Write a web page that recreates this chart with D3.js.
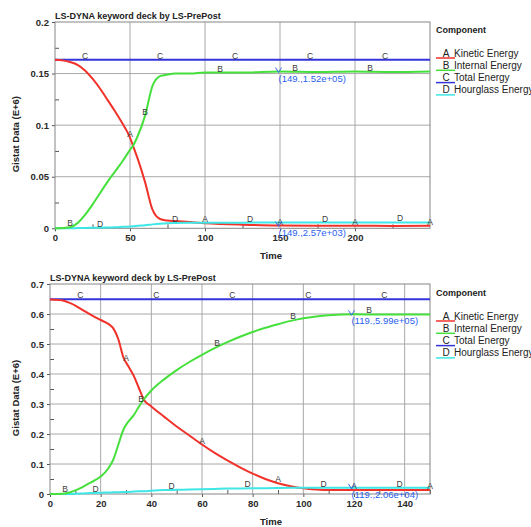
<!DOCTYPE html>
<html>
<head>
<meta charset="utf-8">
<script src="https://cdnjs.cloudflare.com/ajax/libs/d3/7.8.5/d3.min.js"></script>
<style>
	body { margin: 0; background: #fff; }
	svg text { font-family: "Liberation Sans", Arial, sans-serif; }
</style>
</head>
<body>
<div id="chartDiv"></div>
<script>
;(function() {

	var width = 531;
	var height = 527;

	var seriesNames = ["Kinetic Energy", "Internal Energy", "Total Energy", "Hourglass Energy"];
	var seriesLetters = ["A", "B", "C", "D"];
	var seriesColors = ["#f0322a", "#46e03c", "#3434dc", "#3ee6e6"];

	// top plot (time 0..250)
	var topTime      = [0, 5, 10, 15, 20, 25, 30, 35, 40, 45, 50, 52, 55, 60, 65, 70, 75, 80, 90, 100, 125, 150, 175, 200, 225, 250];
	var topKinetic   = [0.1635, 0.1628, 0.1612, 0.1585, 0.153, 0.145, 0.1355, 0.1245, 0.1135, 0.1015, 0.088, 0.080, 0.068, 0.045, 0.018, 0.009, 0.0075, 0.007, 0.006, 0.005, 0.0035, 0.0026, 0.0024, 0.0025, 0.0023, 0.0024];
	var topInternal  = [0, 0.0003, 0.001, 0.005, 0.013, 0.023, 0.034, 0.045, 0.055, 0.065, 0.076, 0.080, 0.089, 0.109, 0.138, 0.1475, 0.149, 0.150, 0.150, 0.151, 0.151, 0.152, 0.1515, 0.152, 0.1515, 0.152];
	var topTotal     = [0.1635, 0.1635, 0.1635, 0.1635, 0.1635, 0.1635, 0.1635, 0.1635, 0.1635, 0.1635, 0.1635, 0.1635, 0.1635, 0.1635, 0.1635, 0.1635, 0.1635, 0.1635, 0.1635, 0.1635, 0.1635, 0.1635, 0.1635, 0.1635, 0.1635, 0.1635];
	var topHourglass = [0, 0, 0, 0.0002, 0.0004, 0.0005, 0.0006, 0.0008, 0.001, 0.0014, 0.0018, 0.002, 0.0024, 0.003, 0.0038, 0.0045, 0.005, 0.0052, 0.0054, 0.0055, 0.0055, 0.0056, 0.0056, 0.0057, 0.0057, 0.0057];
	var topXTicks = [0, 50, 100, 150, 200];
	var topXMinor = [25, 75, 125, 175, 225];
	var topYTicks = [0, 0.05, 0.1, 0.15, 0.2];
	var topYLabels = ["0", "0.05", "0.1", "0.15", "0.2"];
	var topYMinor = [0.025, 0.075, 0.125, 0.175];
	var topNotes = [
		{ t: 149, v: 0.152, text: "(149.,1.52e+05)" },
		{ t: 149, v: 0.00257, text: "(149.,2.57e+03)" }
	];

	// bottom plot (time 0..150)
	var botTime      = [0, 5, 8, 10, 13, 16, 20, 23, 25, 27, 29, 31, 33, 35, 37, 40, 45, 50, 55, 60, 65, 70, 75, 80, 85, 90, 95, 100, 105, 110, 120, 130, 140, 150];
	var botKinetic   = [0.648, 0.645, 0.636, 0.628, 0.613, 0.598, 0.580, 0.567, 0.552, 0.515, 0.455, 0.425, 0.395, 0.355, 0.315, 0.292, 0.258, 0.225, 0.195, 0.165, 0.137, 0.112, 0.089, 0.068, 0.050, 0.036, 0.026, 0.019, 0.015, 0.013, 0.013, 0.013, 0.013, 0.013];
	var botInternal  = [0, 0.001, 0.006, 0.012, 0.024, 0.038, 0.058, 0.085, 0.115, 0.165, 0.215, 0.242, 0.262, 0.290, 0.315, 0.345, 0.382, 0.413, 0.440, 0.464, 0.486, 0.506, 0.524, 0.540, 0.554, 0.566, 0.577, 0.586, 0.592, 0.596, 0.599, 0.598, 0.598, 0.598];
	var botTotal     = [0.649, 0.649, 0.649, 0.649, 0.649, 0.649, 0.649, 0.649, 0.649, 0.649, 0.649, 0.649, 0.649, 0.649, 0.649, 0.649, 0.649, 0.649, 0.649, 0.649, 0.649, 0.649, 0.649, 0.649, 0.649, 0.649, 0.649, 0.649, 0.649, 0.649, 0.649, 0.649, 0.649, 0.649];
	var botHourglass = [0, 0, 0, 0.001, 0.002, 0.003, 0.004, 0.005, 0.0055, 0.006, 0.0065, 0.007, 0.008, 0.009, 0.0095, 0.011, 0.013, 0.014, 0.015, 0.016, 0.017, 0.018, 0.0185, 0.019, 0.0195, 0.020, 0.0205, 0.021, 0.0205, 0.0205, 0.0206, 0.021, 0.021, 0.021];
	var botXTicks = [0, 20, 40, 60, 80, 100, 120, 140];
	var botXMinor = [10, 30, 50, 70, 90, 110, 130, 150];
	var botYTicks = [0, 0.1, 0.2, 0.3, 0.4, 0.5, 0.6, 0.7];
	var botYLabels = ["0", "0.1", "0.2", "0.3", "0.4", "0.5", "0.6", "0.7"];
	var botYMinor = [0.05, 0.15, 0.25, 0.35, 0.45, 0.55, 0.65];
	var botNotes = [
		{ t: 119, v: 0.599, text: "(119.,5.99e+05)" },
		{ t: 119, v: 0.0206, text: "(119.,2.06e+04)" }
	];

	var titleText = "LS-DYNA keyword deck by LS-PrePost";

	var chart = d3.select("#chartDiv").append("svg")
		.attr("width", width)
		.attr("height", height);

	drawPanel({
		left: 55, right: 430, top: 22, bottom: 228.3,
		xMax: 250, yMax: 0.2,
		time: topTime, series: [topKinetic, topInternal, topTotal, topHourglass],
		xTicks: topXTicks, xMinor: topXMinor, yTicks: topYTicks, yLabels: topYLabels, yMinor: topYMinor,
		labelStep: 50, notes: topNotes,
		titleY: 18.5, legendY: 33, timeY: 259
	});

	drawPanel({
		left: 50, right: 430, top: 284, bottom: 494,
		xMax: 150, yMax: 0.7,
		time: botTime, series: [botKinetic, botInternal, botTotal, botHourglass],
		xTicks: botXTicks, xMinor: botXMinor, yTicks: botYTicks, yLabels: botYLabels, yMinor: botYMinor,
		labelStep: 30, notes: botNotes,
		titleY: 281, legendY: 296, timeY: 525
	});

	function drawPanel(p) {
		var x = d3.scaleLinear().domain([0, p.xMax]).range([p.left, p.right]);
		var y = d3.scaleLinear().domain([0, p.yMax]).range([p.bottom, p.top]);
		var g = chart.append("g");

		// grid
		g.selectAll(".vgrid").data(p.xTicks.slice(1)).enter().append("line")
			.attr("x1", function(d) { return x(d); }).attr("x2", function(d) { return x(d); })
			.attr("y1", p.top).attr("y2", p.bottom)
			.attr("stroke", "#a8a8a8").attr("stroke-width", 1);
		g.selectAll(".hgrid").data(p.yTicks.slice(1, -1)).enter().append("line")
			.attr("x1", p.left).attr("x2", p.right)
			.attr("y1", function(d) { return y(d); }).attr("y2", function(d) { return y(d); })
			.attr("stroke", "#a8a8a8").attr("stroke-width", 1);

		// axes (major outside, minor inside)
		g.append("g")
			.attr("transform", "translate(0," + p.bottom + ")")
			.call(d3.axisBottom(x).tickValues(p.xTicks).tickSize(3).tickSizeOuter(0).tickPadding(3).tickFormat(d3.format("d")));
		g.append("g")
			.attr("transform", "translate(0," + p.bottom + ")")
			.call(d3.axisBottom(x).tickValues(p.xMinor).tickSize(-4).tickSizeOuter(0).tickFormat(""));
		g.append("g")
			.attr("transform", "translate(" + p.left + ",0)")
			.call(d3.axisLeft(y).tickValues(p.yTicks).tickSize(3).tickSizeOuter(0).tickPadding(3)
				.tickFormat(function(d, i) { return p.yLabels[i]; }));
		g.append("g")
			.attr("transform", "translate(" + p.left + ",0)")
			.call(d3.axisLeft(y).tickValues(p.yMinor).tickSize(-4).tickSizeOuter(0).tickFormat(""));

		g.selectAll(".domain").remove();
		g.selectAll(".tick line").attr("stroke", "#555");
		g.selectAll(".tick text")
			.attr("fill", "#2a2a2a")
			.style("font-size", "9.5px")
			.style("font-weight", "bold")
			.style("font-family", "'Liberation Sans', Arial, sans-serif");

		// plot frame
		g.append("rect")
			.attr("x", p.left).attr("y", p.top)
			.attr("width", p.right - p.left).attr("height", p.bottom - p.top)
			.attr("fill", "none").attr("stroke", "#858585").attr("stroke-width", 1);

		// curves
		var line = d3.line()
			.x(function(d, i) { return x(p.time[i]); })
			.y(function(d) { return y(d); })
			.curve(d3.curveMonotoneX);

		var order = [2, 0, 3, 1];
		order.forEach(function(k) {
			g.append("path")
				.datum(p.series[k])
				.attr("d", line)
				.attr("fill", "none")
				.attr("stroke", seriesColors[k])
				.attr("stroke-width", 2);
		});

		// letter markers along each curve
		seriesLetters.forEach(function(letter, k) {
			var pts = [];
			for (var t = k * p.labelStep / 5; t <= p.xMax + 0.01; t += p.labelStep) {
				if (t > 0) pts.push(t);
			}
			g.selectAll(".lab" + k).data(pts).enter().append("text")
				.attr("x", function(d) { return x(d); })
				.attr("y", function(d) { return y(valueAt(p.time, p.series[k], d)) - 1; })
				.attr("text-anchor", "middle")
				.attr("fill", "#3a3a3a")
				.style("font-size", "8.5px")
				.text(letter);
		});

		// cursor notes
		p.notes.forEach(function(n) {
			var px = x(n.t), py = y(n.v);
			g.append("path")
				.attr("d", "M" + (px - 3) + "," + (py - 4) + "L" + px + "," + (py + 1) + "L" + (px + 3) + "," + (py - 4))
				.attr("fill", "none").attr("stroke", "#3a6cf0").attr("stroke-width", 1);
			g.append("text")
				.attr("x", px)
				.attr("y", py + 10)
				.attr("fill", "#2a5ff0")
				.style("font-size", "9.5px")
				.text(n.text);
		});

		// title
		g.append("text")
			.attr("x", p.left)
			.attr("y", p.titleY)
			.attr("fill", "#222")
			.style("font-size", "9px")
			.style("font-weight", "bold")
			.text(titleText);

		// axis headers
		g.append("text")
			.attr("text-anchor", "middle")
			.attr("transform", "translate(19," + ((p.top + p.bottom) / 2 + 9) + ") rotate(-90)")
			.attr("fill", "#222")
			.style("font-size", "9.5px")
			.style("font-weight", "bold")
			.text("Gistat Data (E+6)");
		g.append("text")
			.attr("text-anchor", "middle")
			.attr("x", 271)
			.attr("y", p.timeY)
			.attr("fill", "#222")
			.style("font-size", "9.5px")
			.style("font-weight", "bold")
			.text("Time");

		// legend
		var lx = 436;
		g.append("text")
			.attr("x", lx)
			.attr("y", p.legendY)
			.attr("fill", "#222")
			.style("font-size", "9px")
			.style("font-weight", "bold")
			.text("Component");
		seriesNames.forEach(function(name, k) {
			var ly = p.legendY + 23.5 + k * 12.3;
			g.append("line")
				.attr("x1", lx).attr("x2", lx + 19)
				.attr("y1", ly + 1.5).attr("y2", ly + 1.5)
				.attr("stroke", seriesColors[k]).attr("stroke-width", 1.5);
			g.append("text")
				.attr("x", lx + 10)
				.attr("y", ly)
				.attr("text-anchor", "middle")
				.attr("fill", "#222")
				.style("font-size", "10px")
				.text(seriesLetters[k]);
			g.append("text")
				.attr("x", lx + 18)
				.attr("y", ly)
				.attr("fill", "#222")
				.style("font-size", "10px")
				.text(name);
		});
	}

	// linear lookup of a series value at time t
	function valueAt(times, vals, t) {
		var i = d3.bisectLeft(times, t);
		if (i <= 0) return vals[0];
		if (i >= times.length) return vals[vals.length - 1];
		var f = (t - times[i - 1]) / (times[i] - times[i - 1]);
		return vals[i - 1] + f * (vals[i] - vals[i - 1]);
	}

})();
</script>
</body>
</html>
